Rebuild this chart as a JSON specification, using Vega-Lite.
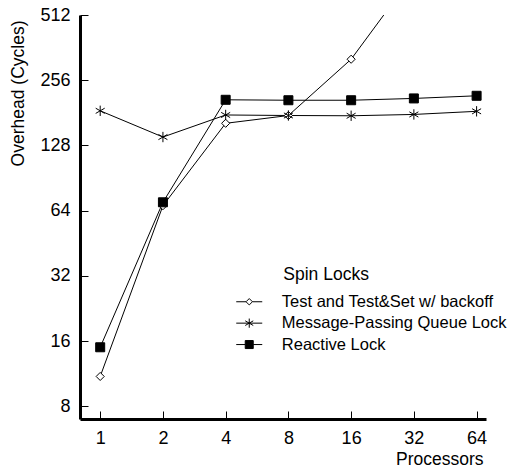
{
  "$schema": "https://vega.github.io/schema/vega-lite/v6.json",
  "autosize": {"type": "none"},
  "width": 406,
  "height": 404,
  "padding": {"left": 80, "top": 15, "right": 30, "bottom": 53},
  "background": "white",
  "config": {
    "view": {"stroke": null},
    "font": "Liberation Sans",
    "axis": {
      "grid": false,
      "domainColor": "black",
      "domainWidth": 3,
      "tickColor": "black",
      "tickWidth": 1,
      "tickSize": -8,
      "labelFont": "Liberation Sans",
      "labelFontSize": 18,
      "labelColor": "black",
      "titleFont": "Liberation Sans",
      "titleFontSize": 17.5,
      "titleFontWeight": "normal",
      "titleColor": "black"
    },
    "legend": {
      "orient": "none",
      "legendX": 203.3,
      "legendY": 251,
      "padding": 0,
      "titleFont": "Liberation Sans",
      "titleFontSize": 17.5,
      "titleFontWeight": "normal",
      "titleColor": "black",
      "titlePadding": 10,
      "labelFont": "Liberation Sans",
      "labelFontSize": 16.5,
      "labelColor": "black",
      "labelLimit": 400,
      "labelOffset": 24.3,
      "symbolOffset": -42.3,
      "rowPadding": 4.4,
      "symbolSize": 64,
      "symbolStrokeWidth": 1
    }
  },
  "data": {
    "values": [
      {"p": 1, "v": 11.0, "s": "Test and Test&Set w/ backoff"},
      {"p": 2, "v": 67.5, "s": "Test and Test&Set w/ backoff"},
      {"p": 4, "v": 162, "s": "Test and Test&Set w/ backoff"},
      {"p": 8, "v": 176, "s": "Test and Test&Set w/ backoff"},
      {"p": 16, "v": 320, "s": "Test and Test&Set w/ backoff"},
      {"p": 32, "v": 790, "s": "Test and Test&Set w/ backoff"},
      {"p": 1, "v": 185, "s": "Message-Passing Queue Lock"},
      {"p": 2, "v": 140, "s": "Message-Passing Queue Lock"},
      {"p": 4, "v": 177, "s": "Message-Passing Queue Lock"},
      {"p": 8, "v": 176, "s": "Message-Passing Queue Lock"},
      {"p": 16, "v": 175.5, "s": "Message-Passing Queue Lock"},
      {"p": 32, "v": 178, "s": "Message-Passing Queue Lock"},
      {"p": 64, "v": 184, "s": "Message-Passing Queue Lock"},
      {"p": 1, "v": 15.0, "s": "Reactive Lock"},
      {"p": 2, "v": 70, "s": "Reactive Lock"},
      {"p": 4, "v": 208, "s": "Reactive Lock"},
      {"p": 8, "v": 207, "s": "Reactive Lock"},
      {"p": 16, "v": 207, "s": "Reactive Lock"},
      {"p": 32, "v": 211, "s": "Reactive Lock"},
      {"p": 64, "v": 217, "s": "Reactive Lock"}
    ]
  },
  "encoding": {
    "x": {
      "field": "p", "type": "quantitative",
      "scale": {"type": "log", "base": 2, "domain": [0.8, 71], "nice": false, "zero": false},
      "axis": {
        "values": [1, 2, 4, 8, 16, 32, 64],
        "labelPadding": 18,
        "title": "Processors",
        "titleAnchor": "end",
        "titleAlign": "right",
        "titleBaseline": "alphabetic",
        "titleX": 403,
        "titleY": 45
      }
    },
    "y": {
      "field": "v", "type": "quantitative",
      "scale": {"type": "log", "base": 2, "domain": [7, 512], "nice": false, "zero": false},
      "axis": {
        "values": [8, 16, 32, 64, 128, 256, 512],
        "labelPadding": 18,
        "title": "Overhead (Cycles)",
        "titleAngle": -90,
        "titleAlign": "right",
        "titleBaseline": "middle",
        "titleX": -62,
        "titleY": 5
      }
    }
  },
  "resolve": {"scale": {"shape": "independent", "fill": "independent", "stroke": "independent"}},
  "layer": [
    {
      "mark": {"type": "line", "color": "black", "strokeWidth": 1, "clip": true},
      "encoding": {"detail": {"field": "s"}}
    },
    {
      "mark": {"type": "point", "strokeWidth": 1, "opacity": 1, "size": 81, "clip": true},
      "encoding": {
        "shape": {
          "field": "s", "type": "nominal",
          "scale": {
            "domain": ["Test and Test&Set w/ backoff", "Message-Passing Queue Lock", "Reactive Lock"],
            "range": [
              "M0,-0.9L0.9,0L0,0.9L-0.9,0Z",
              "M0,-1.15V1.15M-1,-0.58L1,0.58M-1,0.58L1,-0.58",
              "M-1,-1H1V1H-1Z"
            ]
          },
          "legend": null
        },
        "fill": {
          "field": "s", "type": "nominal",
          "scale": {
            "domain": ["Test and Test&Set w/ backoff", "Message-Passing Queue Lock", "Reactive Lock"],
            "range": ["white", "black", "black"]
          },
          "legend": null
        },
        "stroke": {
          "field": "s", "type": "nominal",
          "scale": {
            "domain": ["Test and Test&Set w/ backoff", "Message-Passing Queue Lock", "Reactive Lock"],
            "range": ["black", "black", "black"]
          },
          "legend": null
        }
      }
    },
    {
      "transform": [{"filter": "false"}],
      "mark": {"type": "point", "strokeWidth": 1, "opacity": 1, "size": 64, "clip": true},
      "encoding": {
        "shape": {
          "field": "s", "type": "nominal",
          "scale": {
            "domain": ["Test and Test&Set w/ backoff", "Message-Passing Queue Lock", "Reactive Lock"],
            "range": [
              "M-3.25,0H-0.8M0.8,0H3.25M0,-0.8L0.8,0L0,0.8L-0.8,0Z",
              "M-3.25,0H3.25M0,-1.15V1.15M-1,-0.58L1,0.58M-1,0.58L1,-0.58",
              "M-3.25,0H-1M1,0H3.25M-1,-1H1V1H-1Z"
            ]
          },
          "legend": {"title": "Spin Locks"}
        },
        "fill": {
          "field": "s", "type": "nominal",
          "scale": {
            "domain": ["Test and Test&Set w/ backoff", "Message-Passing Queue Lock", "Reactive Lock"],
            "range": ["white", "black", "black"]
          },
          "legend": {"title": "Spin Locks"}
        },
        "stroke": {
          "field": "s", "type": "nominal",
          "scale": {
            "domain": ["Test and Test&Set w/ backoff", "Message-Passing Queue Lock", "Reactive Lock"],
            "range": ["black", "black", "black"]
          },
          "legend": {"title": "Spin Locks"}
        }
      }
    }
  ]
}
